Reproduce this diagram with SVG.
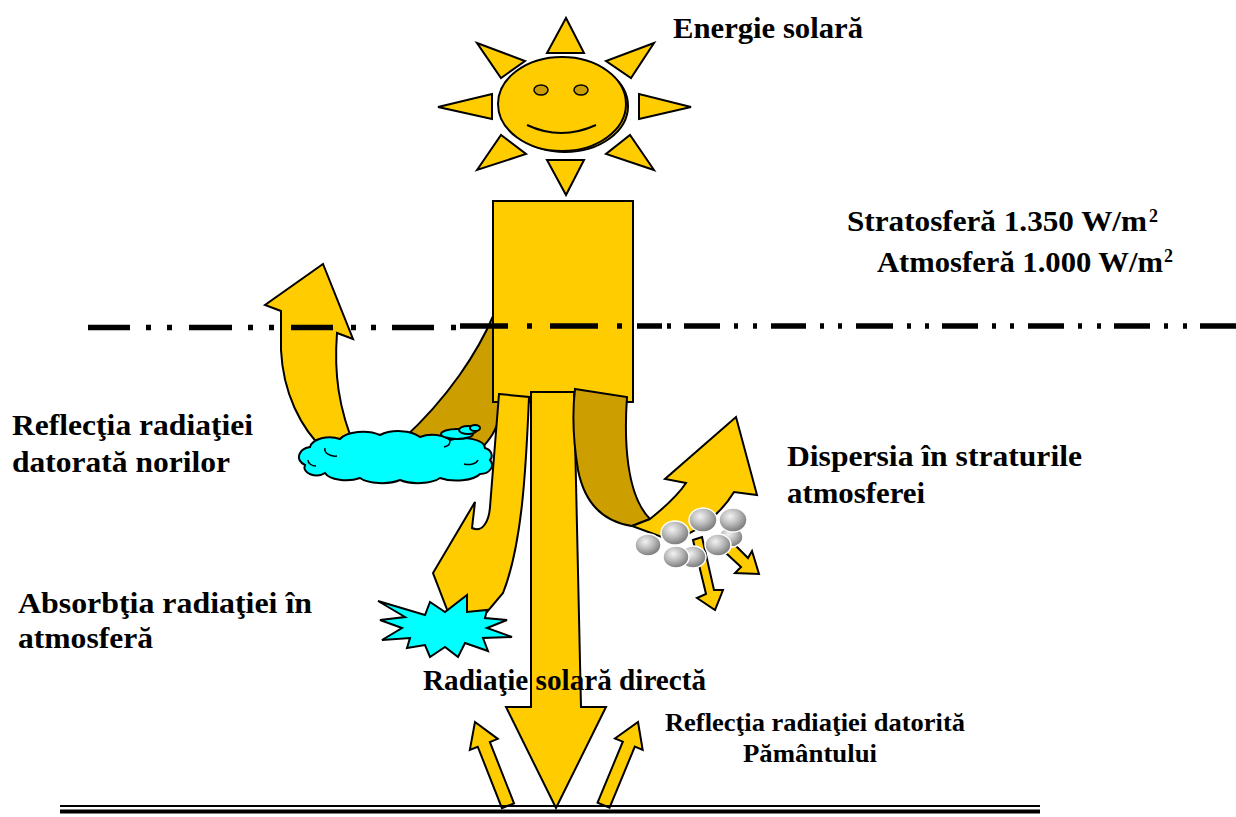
<svg xmlns="http://www.w3.org/2000/svg" width="1236" height="817" viewBox="0 0 1236 817">
  <style>
    .sun { fill: #FFCC00; stroke: #000; stroke-width: 2; stroke-linejoin: miter; }
    .beam { fill: #FFCC00; stroke: #000; stroke-width: 2; stroke-linejoin: miter; }
    .beam-dark { fill: #CC9E00; stroke: #000; stroke-width: 2; stroke-linejoin: miter; }
    .cyan { fill: #00FFFF; stroke: #000; stroke-width: 2; stroke-linejoin: miter; }
    .crease { fill: none; stroke: #000; stroke-width: 1.5; }
    .rock { fill: url(#rockShade); stroke: #ffffff; stroke-width: 1.5; }
    .lbl { font-family: "Liberation Serif", "Times New Roman", serif; font-weight: bold; fill: #000; }
    .big { font-size: 30px; }
    .small { font-size: 26px; }
    .sup { font-size: 18px; }
    .boundary { fill: none; stroke: #000; stroke-width: 5.5; stroke-linecap: butt; }
  </style>
  <defs>
    <radialGradient id="rockShade" cx="40%" cy="35%" r="70%">
      <stop offset="0" stop-color="#f2f2f2"/>
      <stop offset="0.45" stop-color="#bdbdbd"/>
      <stop offset="1" stop-color="#6f6f6f"/>
    </radialGradient>
  </defs>

  <rect width="1236" height="817" fill="#ffffff"/>

  <!-- Sun -->
  <g id="sun">
    <polygon class="sun" points="566,18 547,53 584,53"/>
    <polygon class="sun" points="566,195 547,160 584,160"/>
    <polygon class="sun" points="438,107 492,94 492,119"/>
    <polygon class="sun" points="691,107 639,94 639,119"/>
    <polygon class="sun" points="477,43 525,61 501,78"/>
    <polygon class="sun" points="654,43 606,61 631,78"/>
    <polygon class="sun" points="477,170 501,135 526,154"/>
    <polygon class="sun" points="654,170 630,135 606,154"/>
    <ellipse class="sun" cx="565" cy="106" rx="63" ry="46"/>
    <ellipse class="sun" cx="562" cy="104" rx="64" ry="47"/>
    <ellipse cx="541" cy="90" rx="7" ry="5" fill="#CC9E00" stroke="#000" stroke-width="1.5"/>
    <ellipse cx="581" cy="90" rx="7" ry="5" fill="#CC9E00" stroke="#000" stroke-width="1.5"/>
    <path d="M527,125 Q561,141 596,125" fill="none" stroke="#000" stroke-width="2"/>
  </g>

  <g id="connectors">
    <!-- Reflection by clouds: dark band leaving the column, yellow part rising back up -->
    <g id="arrow-cloud-reflection">
      <path class="beam-dark" d="M494,314 C478,352 448,398 402,440 L478,452 C490,440 497,430 500,414 L500,314 Z"/>
      <path class="beam" d="M326,452 C300,428 283,392 281,350 L281,311 L265,305 L323,264 L353,339 L337,333 C334,372 338,408 356,450 Z"/>
    </g>

    <!-- Column of incoming radiation -->
    <g id="column">
      <rect class="beam" x="493" y="201" width="140" height="201"/>
    </g>

    <!-- Direct solar radiation -->
    <g id="arrow-direct">
      <path class="beam" d="M531,392 L574,392 L581,707 L606,707 L556,808 L506,707 L531,707 Z"/>
    </g>

    <!-- Absorption in the atmosphere -->
    <g id="arrow-absorption">
      <path class="beam" d="M499,394 L529,397 C526,470 522,545 503,593 L487,612 L448,612 L433,573 L475,502 L472,528 C482,533 489,522 490,507 Z"/>
    </g>

    <!-- Scattering in the atmospheric layers -->
    <g id="arrow-dispersion">
      <path class="beam-dark" d="M575,389 L627,397 C624,440 626,495 650,519 L632,526 C605,522 585,505 578,470 C573,440 572,415 575,389 Z"/>
      <path class="beam" d="M650,519 C665,507 678,495 686,483 L665,479 L736,417 L757,495 L734,492 C720,515 695,535 670,540 L632,526 Z"/>
      <polygon class="beam" points="693,540 706,594 697,598 715,610 723,590 714,590 702,537"/>
      <polygon class="beam" points="733,543 748,558 752,551 759,574 735,573 741,567 726,553"/>
    </g>

    <!-- Reflection from the ground -->
    <g id="arrows-ground-reflection">
      <polygon class="beam" transform="translate(475,722) rotate(-21.5)" points="0,0 15,24 6.5,24 6.5,90 -6.5,90 -6.5,24 -15,24"/>
      <polygon class="beam" transform="translate(638,722) rotate(22.5)" points="0,0 15,24 6.5,24 6.5,90 -6.5,90 -6.5,24 -15,24"/>
    </g>
  </g>

  <!-- Cloud -->
  <g id="cloud">
    <path class="cyan" d="M305,465 a14,10 0 0 1 5,-18 a20,12 0 0 1 30,-8 a25,12 0 0 1 40,-4 a25,12 0 0 1 40,2 a20,10 0 0 1 30,3 a22,10 0 0 1 35,8 a10,8 0 0 1 5,12 a12,9 0 0 1 -10,14 a25,10 0 0 1 -40,4 a25,10 0 0 1 -40,2 a25,10 0 0 1 -40,-2 a22,10 0 0 1 -35,-5 a12,8 0 0 1 -20,-8 Z"/>
    <path class="crease" d="M325,448 a10,7 0 0 0 12,8"/>
    <path class="crease" d="M308,460 a8,6 0 0 0 8,6"/>
    <path class="crease" d="M478,460 a10,6 0 0 1 -14,4"/>
    <path class="crease" d="M450,441 a8,6 0 0 1 -6,6"/>
    <ellipse class="cyan" cx="457" cy="434" rx="16" ry="5"/>
    <ellipse class="cyan" cx="468" cy="430" rx="9" ry="4"/>
    <ellipse class="cyan" cx="475" cy="428" rx="5" ry="3"/>
  </g>

  <!-- Absorption burst -->
  <g id="burst">
    <polygon class="cyan" points="378,601 425,615 430,602 445,612 467,595 467,612 487,610 485,618 507,620 487,628 512,637 483,638 488,651 465,643 458,657 445,647 430,657 425,645 407,648 410,638 382,640 402,628 380,620 405,617"/>
  </g>

  <!-- Particles in the atmosphere -->
  <g id="particles">
    <ellipse class="rock" cx="731" cy="537" rx="12" ry="10"/>
    <ellipse class="rock" cx="733" cy="520" rx="14" ry="12"/>
    <ellipse class="rock" cx="703" cy="520" rx="14" ry="12"/>
    <ellipse class="rock" cx="693" cy="557" rx="13" ry="11"/>
    <ellipse class="rock" cx="718" cy="545" rx="13" ry="11"/>
    <ellipse class="rock" cx="675" cy="533" rx="14" ry="12"/>
    <ellipse class="rock" cx="676" cy="557" rx="13" ry="11"/>
    <ellipse class="rock" cx="648" cy="545" rx="13" ry="11"/>
  </g>

  <!-- Upper boundary of the atmosphere -->
  <g id="boundary">
    <path class="boundary" d="M88,327.5 H130 M146,327.5 H151 M167,327.5 H172 M189,327.5 H232 M248,327.5 H253 M269,327.5 H274 M291,327.5 H333 M351,327.5 H356 M371,327.5 H376 M392,327.5 H434 M451,327.5 H456 M460,326 H508 M527,326 H532 M550,326 H598 M617,326 H622 M637,326 H662 M667,326 H671 M684,326 H720 M734,326 H738 M753,326 H757 M771,326 H806 M820,326 H824 M838,326 H842 M856,326 H893 M907,326 H911 M925,326 H929 M942,326 H978 M992,326 H996 M1010,326 H1014 M1028,326 H1064 M1078,326 H1082 M1097,326 H1101 M1114,326 H1150 M1164,326 H1168 M1183,326 H1187 M1200,326 H1236"/>
  </g>

  <!-- Ground -->
  <g id="ground">
    <line x1="60" y1="806" x2="1040" y2="806" stroke="#000" stroke-width="2"/>
    <line x1="60" y1="811.5" x2="1040" y2="811.5" stroke="#000" stroke-width="4"/>
  </g>

  <!-- Labels -->
  <g id="labels">
    <text class="lbl big" x="673" y="38" textLength="190" lengthAdjust="spacingAndGlyphs">Energie solară</text>
    <text class="lbl big" x="847" y="231" textLength="300" lengthAdjust="spacingAndGlyphs">Stratosferă 1.350 W/m</text>
    <text class="lbl sup" x="1149" y="222">2</text>
    <text class="lbl big" x="877" y="272" textLength="286" lengthAdjust="spacingAndGlyphs">Atmosferă 1.000 W/m</text>
    <text class="lbl sup" x="1164" y="262">2</text>
    <text class="lbl big" x="12" y="435" textLength="241" lengthAdjust="spacingAndGlyphs">Reflecţia radiaţiei</text>
    <text class="lbl big" x="12" y="472" textLength="218" lengthAdjust="spacingAndGlyphs">datorată norilor</text>
    <text class="lbl big" x="787" y="466" textLength="295" lengthAdjust="spacingAndGlyphs">Dispersia în straturile</text>
    <text class="lbl big" x="787" y="503" textLength="138" lengthAdjust="spacingAndGlyphs">atmosferei</text>
    <text class="lbl big" x="18" y="613" textLength="294" lengthAdjust="spacingAndGlyphs">Absorbţia radiaţiei în</text>
    <text class="lbl big" x="18" y="648" textLength="135" lengthAdjust="spacingAndGlyphs">atmosferă</text>
    <text class="lbl big" x="423" y="690" textLength="283" lengthAdjust="spacingAndGlyphs">Radiaţie solară directă</text>
    <text class="lbl small" x="665" y="731" textLength="300" lengthAdjust="spacingAndGlyphs">Reflecţia radiaţiei datorită</text>
    <text class="lbl small" x="743" y="762" textLength="134" lengthAdjust="spacingAndGlyphs">Pământului</text>
  </g>
</svg>
